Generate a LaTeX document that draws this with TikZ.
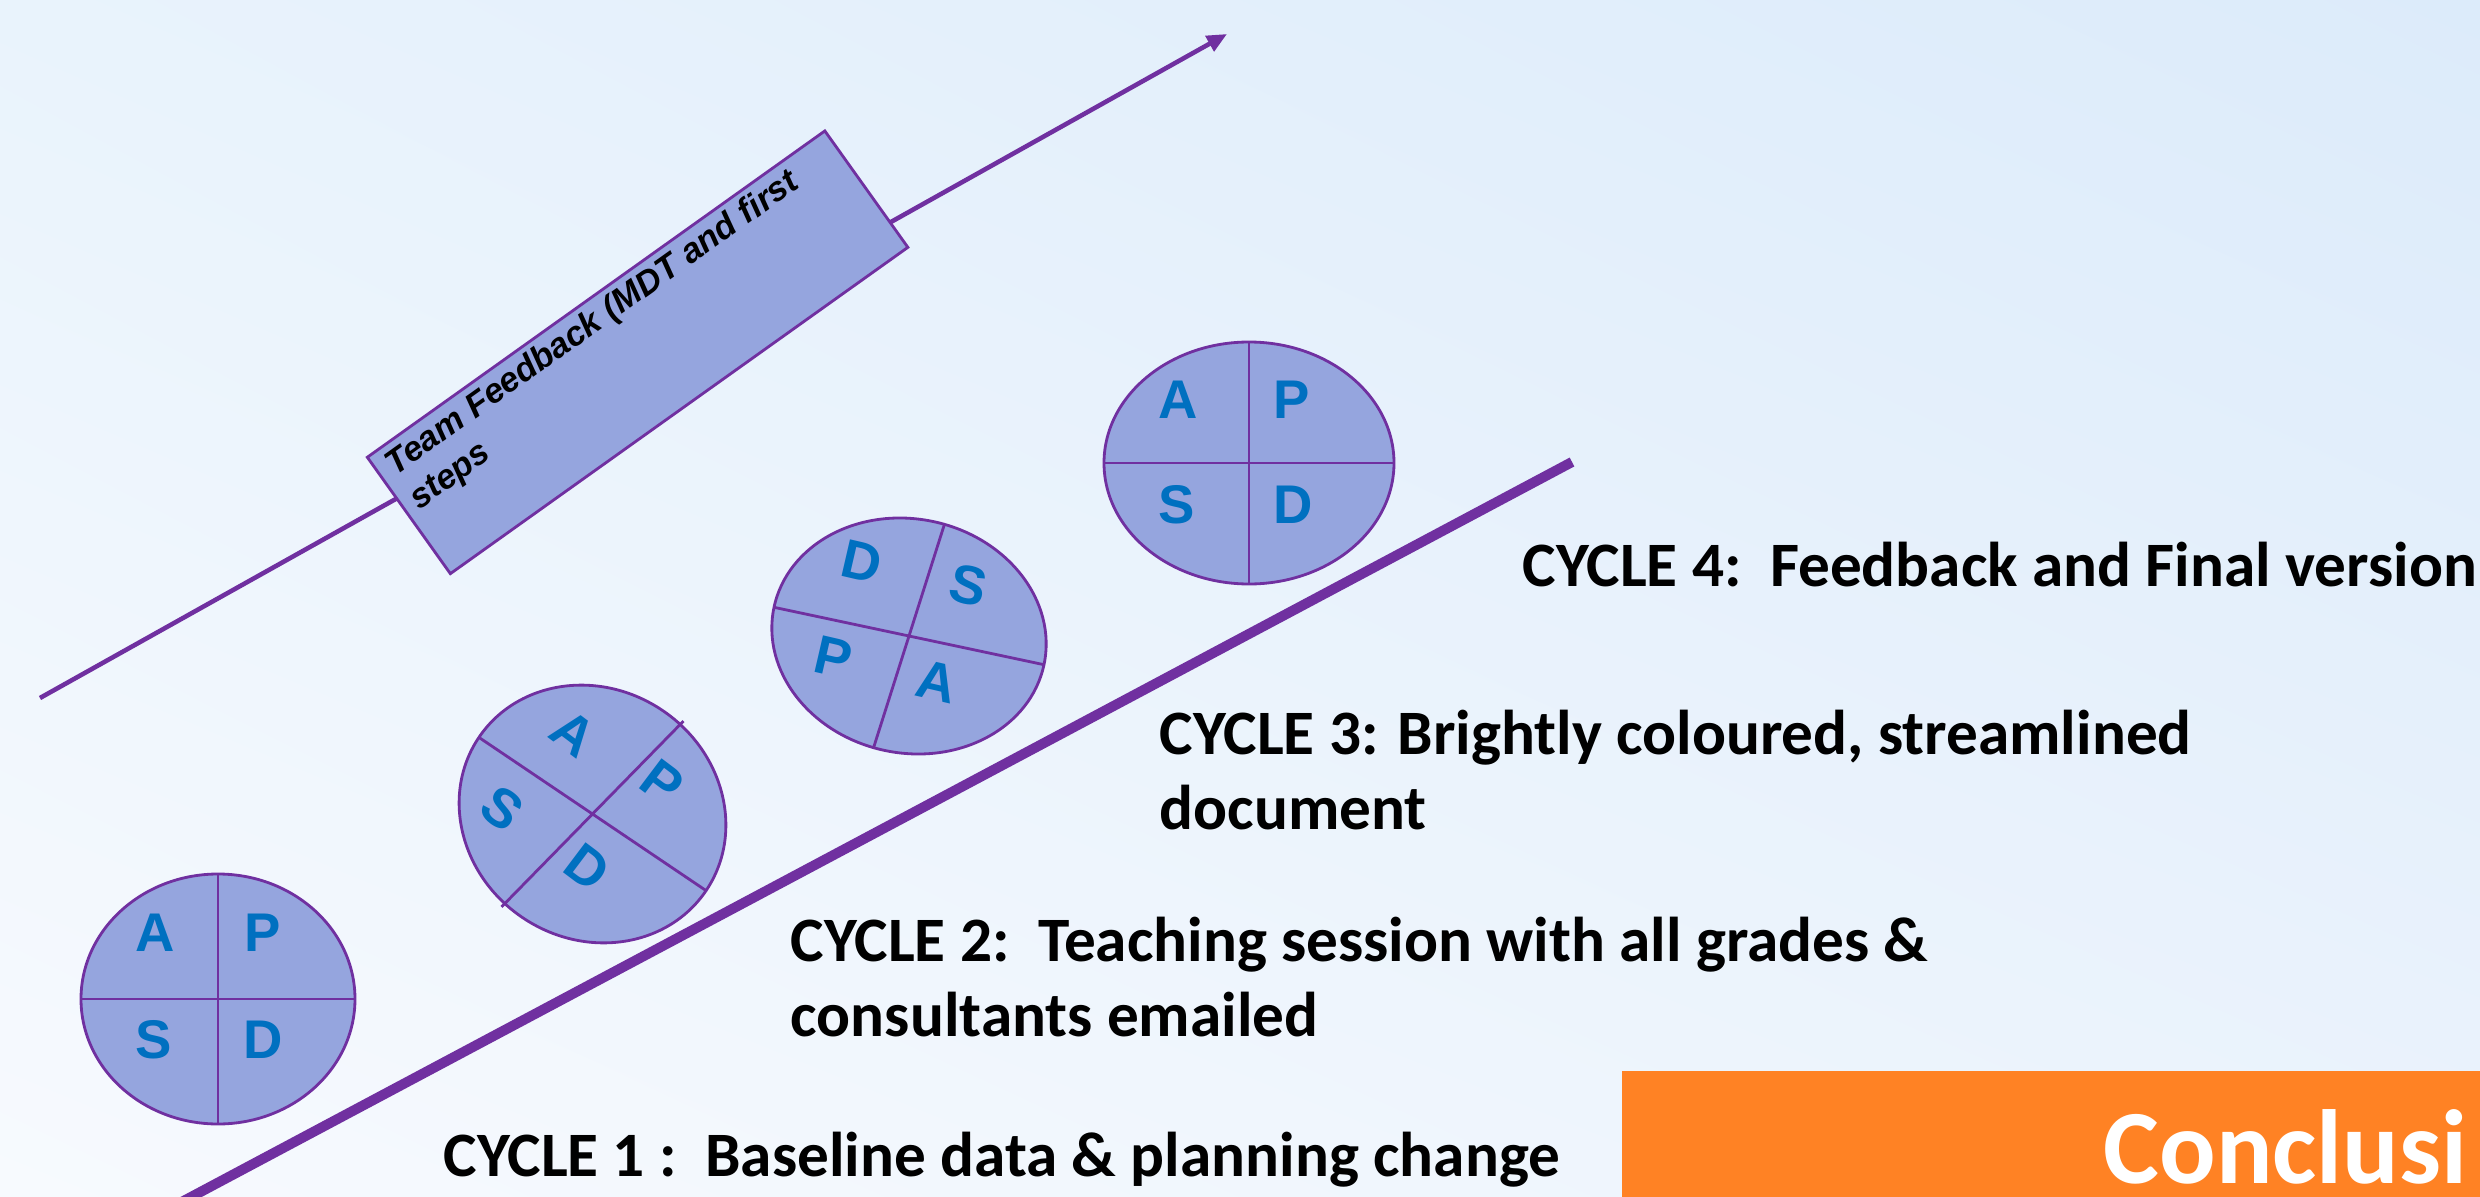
\documentclass[tikz,border=0pt]{standalone}
\usepackage{fontspec}
\setmainfont{Carlito}
\newfontfamily\arialf{Liberation Sans}
\usetikzlibrary{arrows.meta,shapes.geometric,shadings}
\definecolor{lila}{RGB}{112,48,160}
\definecolor{kitolt}{RGB}{149,165,222}
\definecolor{betuk}{RGB}{0,112,192}
\definecolor{narancs}{RGB}{255,130,36}
\definecolor{hatter1}{RGB}{233,243,252}
\definecolor{hatter2}{RGB}{220,235,250}
\definecolor{hatter3}{RGB}{247,250,254}
\definecolor{hatter4}{RGB}{235,243,252}
\tikzset{
  kor/.style={ellipse,draw=lila,line width=0.8pt,fill=kitolt,inner sep=0pt,outer sep=0pt},
  betu/.style={text=betuk,font=\arialf\bfseries\fontsize{15.5}{18}\selectfont,inner sep=0pt},
  felirat/.style={anchor=base west,align=left,inner sep=0pt,font=\bfseries\fontsize{18}{21.3}\selectfont},
  vonal/.style={lila,line width=1.3pt},
  doboz/.style={draw=lila,line width=0.8pt,fill=kitolt,inner sep=0pt,outer sep=0pt},
}

\begin{document}
\begin{tikzpicture}[x=0.1mm,y=0.1mm]
  \useasboundingbox (0,0) rectangle (2480,-1197);
  \clip (0,0) rectangle (2480,-1197);
  \shade[upper left=hatter1,upper right=hatter2,lower left=hatter3,lower right=hatter4]
    (0,0) rectangle (2480,-1197);
  \coordinate (ny0) at (40,-698); \coordinate (ny1) at (1227,-34);
  \draw[vonal,-{Triangle[length=2mm,width=1.7mm]}] (ny0) -- (ny1);
  \node[doboz,rotate=35.5,minimum width=56.2mm,minimum height=14.3mm] (tf) at (637.6,-352.3) {};
  \node[rotate=35.5,anchor=north west,inner xsep=1.1mm,inner ysep=0.6mm,align=left,
    font=\arialf\bfseries\itshape\fontsize{9.8}{11.8}\selectfont] (tft) at (tf.north west)
    {Team Feedback (MDT and first\\steps};
  \coordinate (v0) at (176,-1205); \coordinate (v1) at (1572,-462);
  \draw[vonal,line width=2.85pt] (v0) -- (v1);
  % elso ciklus
  \node[kor,minimum width=27.4mm,minimum height=25mm] (c1) at (218,-999) {};
  \draw[vonal,line width=0.8pt] (c1.north) -- (c1.south) (c1.west) -- (c1.east);
  \node[betu] (c1a) at (155,-933) {A}; \node[betu] (c1p) at (263,-933) {P};
  \node[betu] (c1s) at (154,-1040) {S}; \node[betu] (c1d) at (263,-1040) {D};
  % masodik ciklus
  \node[kor,rotate=-34,minimum width=27.4mm,minimum height=25mm] (c2) at (592.5,-814) {};
  \draw[vonal,line width=0.8pt] (c2.west) -- (c2.east) (c2.center) ++(45.6:130) -- ++(225.6:260);
  \node[betu,rotate=-37] (c2a) at (573,-733) {A}; \node[betu,rotate=-37] (c2p) at (662,-782) {P};
  \node[betu,rotate=-37] (c2s) at (502,-808) {S}; \node[betu,rotate=-37] (c2d) at (587,-867) {D};
  % harmadik ciklus
  \node[kor,rotate=-12,minimum width=27.6mm,minimum height=23.4mm] (c3) at (909,-636) {};
  \draw[vonal,line width=0.8pt] (c3.west) -- (c3.east) (c3.center) ++(72.4:117) -- ++(252.4:234);
  \node[betu,rotate=-13] (c3d) at (862,-562) {D}; \node[betu,rotate=-13] (c3s) at (968,-585) {S};
  \node[betu,rotate=-13] (c3p) at (833,-657) {P}; \node[betu,rotate=-13] (c3a) at (937,-682) {A};
  % negyedik ciklus
  \node[kor,minimum width=29mm,minimum height=24.2mm] (c4) at (1249,-463) {};
  \draw[vonal,line width=0.8pt] (c4.north) -- (c4.south) (c4.west) -- (c4.east);
  \node[betu] (c4a) at (1178,-400) {A}; \node[betu] (c4p) at (1292,-400) {P};
  \node[betu] (c4s) at (1177,-505) {S}; \node[betu] (c4d) at (1293,-505) {D};
  % feliratok (tobbsoros: az utolso sor alapvonala)
  \node[felirat] (f4) at (1522,-586) {CYCLE 4:\ \ Feedback and Final version};
  \node[felirat] (f3) at (1159,-829) {CYCLE 3: Brightly coloured, streamlined\\document};
  \node[felirat] (f2) at (790,-1036) {CYCLE 2:\ \ Teaching session with all grades \&\\consultants emailed};
  \node[felirat] (f1) at (443,-1176) {CYCLE 1 :\ \ Baseline data \& planning change};
  \node[fill=narancs,anchor=north west,inner sep=0pt,minimum width=86mm,minimum height=13mm] (kk) at (1621,-1070) {};
  \node[anchor=base west,inner sep=0pt,text=white,font=\bfseries\fontsize{30}{36}\selectfont] (kkt) at (2103,-1183) {Conclusi};
\end{tikzpicture}
\end{document}
